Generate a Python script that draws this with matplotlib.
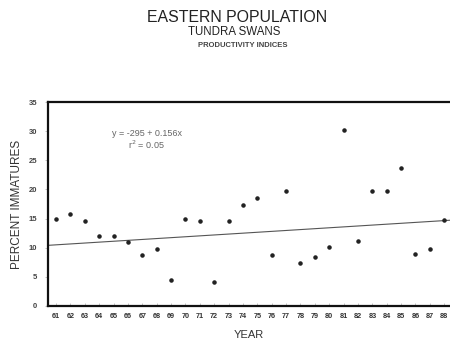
import matplotlib.pyplot as plt
import numpy as np

plt.rcParams['font.family'] = ['Liberation Sans', 'DejaVu Sans']

# 年份 (19xx) 和未成年天鹅百分比
years = [61, 62, 63, 64, 65, 66, 67, 68, 69, 70, 71, 72, 73, 74,
         75, 76, 77, 78, 79, 80, 81, 82, 83, 84, 85, 86, 87, 88]
pct_immatures = [15.0, 15.8, 14.6, 12.0, 12.0, 11.0, 8.8, 9.8, 4.5, 14.9,
                 14.5, 4.1, 14.5, 17.3, 18.5, 8.7, 19.7, 7.4, 8.4, 10.2,
                 30.2, 11.1, 19.8, 19.8, 23.6, 8.9, 9.7, 14.7]
y_ticks = [0, 5, 10, 15, 20, 25, 30, 35]

# 回归线
trend_slope = 0.154
trend_intercept = -291.5

fig = plt.figure(figsize=(4.5, 3.43), dpi=100)
ax = fig.add_axes([48 / 450, 37 / 343, 402 / 450, 204 / 343])

ax.scatter(years, pct_immatures, s=5, color='#222222', zorder=3)

xl = np.array([60.44, 88.4])
ax.plot(xl, trend_intercept + trend_slope * (1900 + xl), color='#555555', lw=0.8)

ax.set_xlim(60.44, 88.4)
ax.set_ylim(0, 35)
ax.set_xticks(years)
ax.set_xticklabels([str(y) for y in years], fontsize=5.2, fontweight='bold', color='#333333')
ax.set_yticks(y_ticks)
ax.set_yticklabels([str(v) for v in y_ticks], fontsize=5.5, fontweight='bold', color='#444444')
ax.tick_params(axis='both', direction='in', length=2, width=0.5, color='#aaaaaa', pad=5)
ax.tick_params(axis='y', direction='out', length=2, pad=6)

for s in ['top', 'left', 'bottom']:
    ax.spines[s].set_linewidth(1.6)
    ax.spines[s].set_color('#111111')
ax.spines['right'].set_visible(False)

ax.set_ylabel('PERCENT IMMATURES', fontsize=8.5, color='#333333', labelpad=4)
ax.set_xlabel('YEAR', fontsize=8, color='#333333', labelpad=7)

ax.text(0.159, 0.848, 'y = -295 + 0.156x', transform=ax.transAxes, fontsize=6.5,
        color='#666666', va='center')
ax.text(0.199, 0.789, r'r$^2$ = 0.05', transform=ax.transAxes, fontsize=6.5,
        color='#666666', va='center')

fig.text(0.527, 0.949, 'EASTERN POPULATION', ha='center', va='center', fontsize=11.4, color='#222222')
fig.text(0.52, 0.908, 'TUNDRA SWANS', ha='center', va='center', fontsize=8.3, color='#222222')
fig.text(0.54, 0.868, 'PRODUCTIVITY INDICES', ha='center', va='center', fontsize=5.5,
         fontweight='bold', color='#444444')

plt.savefig('out.png', dpi=100)
